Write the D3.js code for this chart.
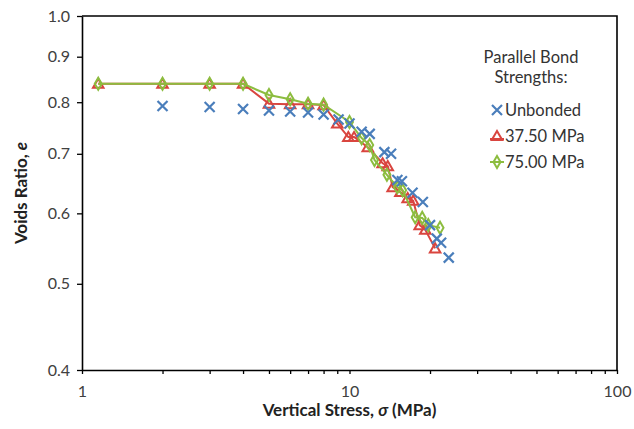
<!DOCTYPE html>
<html>
<head>
<meta charset="utf-8">
<script src="https://cdn.jsdelivr.net/npm/d3@7"></script>
<style>
  body { margin: 0; background: #fff; }
  svg text { font-family: Lato, "Open Sans", sans-serif; }
</style>
</head>
<body>
<svg id="chart" width="634" height="429"></svg>
<script>
// data (stress in MPa, voids ratio)
const unbondedX = [2, 3, 4, 5, 6, 7, 8, 9.1, 10.0, 11.1, 11.9, 13.5, 14.3, 15.1, 15.7, 17.2, 18.8, 20.0, 21.2, 22.0, 23.5];
const unbondedY = [0.792, 0.790, 0.786, 0.783, 0.781, 0.779, 0.775, 0.765, 0.757, 0.741, 0.737, 0.703, 0.700, 0.654, 0.652, 0.633, 0.618, 0.582, 0.562, 0.556, 0.535];

const pb37X = [1.15, 2, 3, 4, 5, 6, 7, 8, 9.0, 9.9, 10.4, 11.7, 13.3, 13.9, 14.5, 15.5, 16.5, 17.3, 18.3, 19.2, 20.9];
const pb37Y = [0.839, 0.839, 0.839, 0.839, 0.797, 0.796, 0.796, 0.794, 0.757, 0.731, 0.731, 0.712, 0.683, 0.678, 0.642, 0.634, 0.624, 0.620, 0.582, 0.575, 0.548];

const pb75X = [1.15, 2, 3, 4, 5, 6, 7, 8, 10.0, 11.1, 11.9, 12.4, 13.8, 15.1, 15.8, 17.6, 18.7, 19.7, 21.8];
const pb75Y = [0.839, 0.839, 0.839, 0.839, 0.815, 0.806, 0.797, 0.795, 0.760, 0.729, 0.716, 0.689, 0.663, 0.642, 0.637, 0.594, 0.593, 0.582, 0.578];

const seriesNames = ['Unbonded', '37.50 MPa', '75.00 MPa'];
const xTickLabels = [1, 10, 100];
const yTickValues = [0.4, 0.5, 0.6, 0.7, 0.8, 0.9, 1.0];

const colors = { blue: '#4a7ebb', red: '#d9453f', green: '#8cbd3f' };

const svg = d3.select('#chart');
const plot = { left: 82, right: 617, top: 16, bottom: 370 };

const x = d3.scaleLog().domain([1, 100]).range([plot.left, plot.right]);
const y = d3.scaleLog().domain([0.4, 1.0]).range([plot.bottom, plot.top]);

const zip = (xs, ys) => xs.map((v, i) => ({ x: v, y: ys[i] }));
const unbonded = zip(unbondedX, unbondedY);
const pb37 = zip(pb37X, pb37Y);
const pb75 = zip(pb75X, pb75Y);

// x ticks 1..100 (minor + major)
const xTicks = d3.range(1, 10).concat(d3.range(10, 100, 10)).concat([100]);
svg.append('g')
  .attr('transform', `translate(0,${plot.bottom})`)
  .call(d3.axisBottom(x).tickValues(xTicks).tickSize(4).tickSizeOuter(0)
    .tickFormat((d) => (xTickLabels.includes(d) ? d : '')))
  .call((g) => g.select('.domain').attr('stroke', '#000').attr('stroke-width', 1.6))
  .call((g) => g.selectAll('.tick line').attr('stroke', '#000').attr('stroke-width', 1.3))
  .call((g) => g.selectAll('.tick text')
    .attr('dy', 0).attr('y', 27)
    .attr('fill', '#404040')
    .style('font-size', '16px'));

svg.append('g')
  .attr('transform', `translate(${plot.left},0)`)
  .call(d3.axisLeft(y).tickValues(yTickValues).tickSize(5).tickSizeOuter(0)
    .tickFormat(d3.format('.1f')))
  .call((g) => g.select('.domain').attr('stroke', '#000').attr('stroke-width', 1.6))
  .call((g) => g.selectAll('.tick line').attr('stroke', '#000').attr('stroke-width', 1.3))
  .call((g) => g.selectAll('.tick text')
    .attr('x', -12)
    .attr('fill', '#404040')
    .style('font-size', '16px'));

// top and right border
svg.append('path')
  .attr('d', `M${plot.left},${plot.top}H${plot.right}V${plot.bottom}`)
  .attr('fill', 'none')
  .attr('stroke', '#000')
  .attr('stroke-width', 1.6);

const line = d3.line().x((d) => x(d.x)).y((d) => y(d.y));

const triangle = d3.symbol().type(d3.symbolTriangle).size(48);
const diamond = d3.symbol().type(d3.symbolDiamond).size(42);

function drawCross(g, px, py, s, color) {
  g.append('path')
    .attr('d', `M${px - s},${py - s}L${px + s},${py + s}M${px - s},${py + s}L${px + s},${py - s}`)
    .attr('stroke', color)
    .attr('stroke-width', 2.2)
    .attr('fill', 'none');
}

// 37.50 MPa
svg.append('path')
  .datum(pb37)
  .attr('d', line)
  .attr('fill', 'none')
  .attr('stroke', colors.red)
  .attr('stroke-width', 2);
svg.append('g').selectAll('path')
  .data(pb37)
  .join('path')
  .attr('d', triangle)
  .attr('transform', (d) => `translate(${x(d.x)},${y(d.y) + 1})`)
  .attr('fill', 'none')
  .attr('stroke', colors.red)
  .attr('stroke-width', 2);

// 75.00 MPa
svg.append('path')
  .datum(pb75)
  .attr('d', line)
  .attr('fill', 'none')
  .attr('stroke', colors.green)
  .attr('stroke-width', 2);
svg.append('g').selectAll('path')
  .data(pb75)
  .join('path')
  .attr('d', diamond)
  .attr('transform', (d) => `translate(${x(d.x)},${y(d.y)})`)
  .attr('fill', 'none')
  .attr('stroke', colors.green)
  .attr('stroke-width', 2);

// Unbonded - markers only
const crosses = svg.append('g');
unbonded.forEach((d) => drawCross(crosses, x(d.x), y(d.y), 5, colors.blue));

// axis titles
svg.append('text')
  .attr('transform', `translate(27,${(plot.top + plot.bottom) / 2}) rotate(-90)`)
  .attr('text-anchor', 'middle')
  .style('font-size', '17px')
  .style('font-weight', 700)
  .attr('fill', '#222')
  .call((t) => {
    t.append('tspan').text('Voids Ratio, ');
    t.append('tspan').style('font-style', 'italic').text('e');
  });

svg.append('text')
  .attr('x', (plot.left + plot.right) / 2)
  .attr('y', 416)
  .attr('text-anchor', 'middle')
  .style('font-size', '17px')
  .style('font-weight', 700)
  .attr('fill', '#222')
  .call((t) => {
    t.append('tspan').text('Vertical Stress, ');
    t.append('tspan').style('font-style', 'italic').text('σ');
    t.append('tspan').text(' (MPa)');
  });

// legend
const legend = svg.append('g').style('font-size', '16.5px').attr('fill', '#333');
legend.append('text').attr('x', 531).attr('y', 63).attr('text-anchor', 'middle').text('Parallel Bond');
legend.append('text').attr('x', 531).attr('y', 83).attr('text-anchor', 'middle').text('Strengths:');

const legY = [110, 136, 162];
seriesNames.forEach((name, i) => {
  legend.append('text').attr('x', 505).attr('y', legY[i] + 6).text(name);
});
drawCross(legend, 497, legY[0], 5, colors.blue);
legend.append('path')
  .attr('d', `M490,${legY[1] + 3}H504`)
  .attr('stroke', colors.red).attr('stroke-width', 2);
legend.append('path')
  .attr('d', triangle)
  .attr('transform', `translate(497,${legY[1] + 1})`)
  .attr('fill', 'none').attr('stroke', colors.red).attr('stroke-width', 2);
legend.append('path')
  .attr('d', `M490,${legY[2]}H504`)
  .attr('stroke', colors.green).attr('stroke-width', 2);
legend.append('path')
  .attr('d', diamond)
  .attr('transform', `translate(497,${legY[2]})`)
  .attr('fill', 'none').attr('stroke', colors.green).attr('stroke-width', 2);
</script>
</body>
</html>
